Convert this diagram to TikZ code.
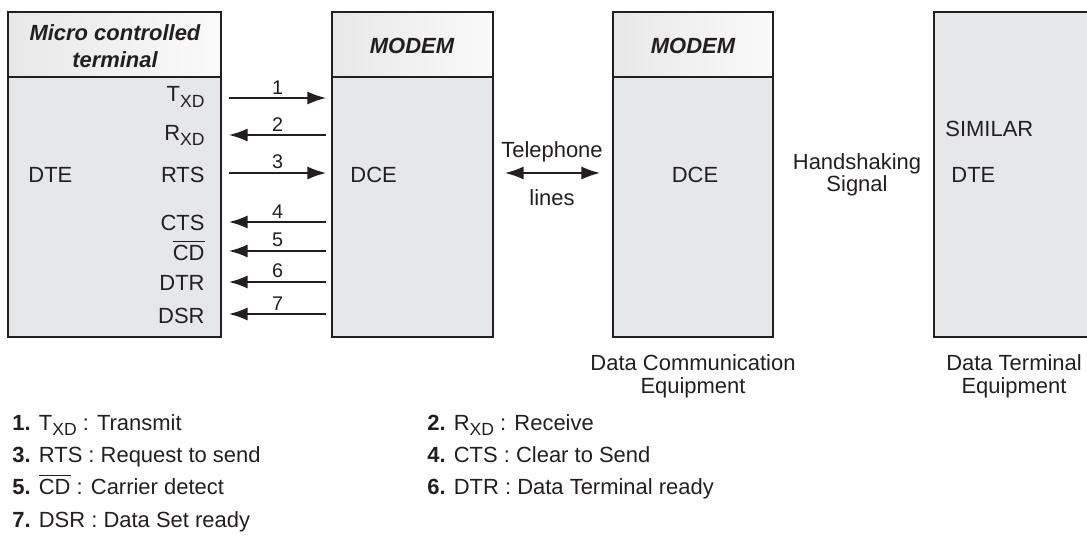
\documentclass[tikz,border=0pt]{standalone}
\usepackage{fontspec}
\setmainfont{Liberation Sans}
\usetikzlibrary{arrows.meta}
\definecolor{boxgray}{HTML}{E6E7E8}
\definecolor{ink}{HTML}{231F20}
\lineskiplimit=-20pt
\newcommand{\sbx}[1]{\raisebox{-0.27em}{\fontsize{8}{8}\selectfont #1}}
\newcommand{\ovl}[1]{$\overline{\mbox{#1}}$}
\begin{document}
\begin{tikzpicture}[>={Latex[length=3mm,width=2.1mm]}, x=0.016cm, y=-0.016cm,
    every node/.style={inner sep=0pt, text=ink},
    frame/.style={draw=ink, line width=0.9pt},
    link/.style={draw=ink, line width=0.7pt},
    sig/.style={anchor=base east},
    txt/.style={anchor=base west},
    head/.style={font=\fontsize{10}{12.2}\selectfont\bfseries\itshape}]
    \useasboundingbox (0,0) rectangle (1087,536);
    % boxes with a header
    \foreach \xa/\xb in {8/221, 332/493, 613/773}{
        \fill[boxgray] (\xa,12) rectangle (\xb,337);
        \shade[left color=black!9, right color=black!2] (\xa,12) rectangle (\xb,77);
        \draw[frame] (\xa,12) rectangle (\xb,337) (\xa,77) -- (\xb,77);
    }
    % far terminal, runs off the page
    \fill[boxgray] (934,12) rectangle (1095,337);
    \draw[frame] (934,12) rectangle (1095,337);

    \node[head, align=center, anchor=north] (mct) at (115,24) {Micro controlled\\terminal};
    \node[head, anchor=base] (modema) at (412,53) {MODEM};
    \node[head, anchor=base] (modemb) at (693,53) {MODEM};

    \node[sig] (txd) at (205,102) {T\sbx{XD}};
    \node[sig] (rxd) at (205,140) {R\sbx{XD}};
    \node[sig] (rts) at (205,182) {RTS};
    \node[sig] (cts) at (205,230) {CTS};
    \node[sig] (cd)  at (205,260) {\ovl{CD}};
    \node[sig] (dtr) at (205,290) {DTR};
    \node[sig] (dsr) at (205,323) {DSR};
    \node[txt] (dtea) at (28,183) {DTE};
    \node[txt] (dcea) at (350,183) {DCE};

    % numbered signal lines
    \foreach \n/\y/\tip in {1/98/->, 2/135/<-, 3/173/->, 4/222/<-, 5/251/<-, 6/282/<-, 7/314/<-}{
        \coordinate (l\n) at (229,\y);
        \coordinate (r\n) at (326,\y);
        \draw[link,\tip] (l\n) -- node[above=1.4pt, font=\fontsize{9}{9}\selectfont] (n\n) {\n} (r\n);
    }

    \coordinate (tl) at (505,173);
    \coordinate (tr) at (600,173);
    \draw[link,<->] (tl) -- (tr);
    \node[anchor=base] (tel) at (552,157) {Telephone};
    \node[anchor=base] (lin) at (552,205) {lines};

    \node[anchor=base] (dceb) at (695,183) {DCE};
    \node[align=center, anchor=north, font=\fontsize{10}{10}\selectfont] (hs) at (857,153) {Handshaking\\Signal};
    \node[txt] (sim) at (945,137) {SIMILAR};
    \node[txt] (dteb) at (951,183) {DTE};

    \node[align=center, anchor=north, font=\fontsize{10}{10.4}\selectfont] (dcelab) at (693,354) {Data Communication\\Equipment};
    \node[align=center, anchor=north, font=\fontsize{10}{10.4}\selectfont] (dtelab) at (1014,354) {Data Terminal\\Equipment};

    % key
    \node[txt] (k1) at (12,430) {\textbf{1.} T\sbx{XD} : Transmit};
    \node[txt] (k2) at (427,430) {\textbf{2.} R\sbx{XD} : Receive};
    \node[txt] (k3) at (12,462) {\textbf{3.} RTS : Request to send};
    \node[txt] (k4) at (427,462) {\textbf{4.} CTS : Clear to Send};
    \node[txt] (k5) at (12,494) {\textbf{5.} \ovl{CD} : Carrier detect};
    \node[txt] (k6) at (427,494) {\textbf{6.} DTR : Data Terminal ready};
    \node[txt] (k7) at (12,527) {\textbf{7.} DSR : Data Set ready};
\end{tikzpicture}
\end{document}
